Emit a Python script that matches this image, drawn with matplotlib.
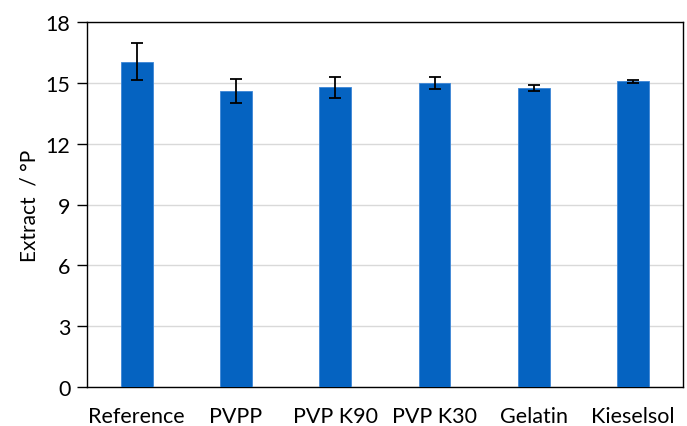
import matplotlib.pyplot as plt
import numpy as np

plt.rcParams['font.family'] = ['Lato', 'DejaVu Sans']

treatments = ["Reference", "PVPP", "PVP K90", "PVP K30", "Gelatin", "Kieselsol"]
extract = [16.05, 14.6, 14.78, 14.99, 14.74, 15.07]
extract_err = [0.90, 0.57, 0.53, 0.28, 0.16, 0.08]

x = np.arange(len(treatments))

fig = plt.figure(figsize=(6.87, 4.27), dpi=100)
ax = fig.add_axes([0.1266, 0.0913, 0.8674, 0.8547])

ax.bar(x, extract, 0.32, color='#0563C1', edgecolor='#3C86D6', linewidth=0.6,
       yerr=extract_err, capsize=4,
       error_kw=dict(ecolor='black', elinewidth=1.3, capthick=1.3), zorder=3)

ax.set_xlim(-0.5, len(treatments) - 0.5)
ax.set_ylim(0, 18)
ax.set_yticks(np.arange(0, 19, 3))
ax.set_xticks(x, treatments)
ax.yaxis.grid(True, color='#D9D9D9', linewidth=1.0, zorder=0)
ax.set_axisbelow(True)

for s in ax.spines.values():
    s.set_color('black')
    s.set_linewidth(1.0)

ax.tick_params(axis='y', direction='out', length=7, width=1.0, labelsize=15.5, pad=5)
ax.tick_params(axis='x', length=0, labelsize=15.5, pad=14)
ax.set_ylabel('Extract  / °P', fontsize=15, labelpad=4)

plt.savefig('out.png', dpi=100)
